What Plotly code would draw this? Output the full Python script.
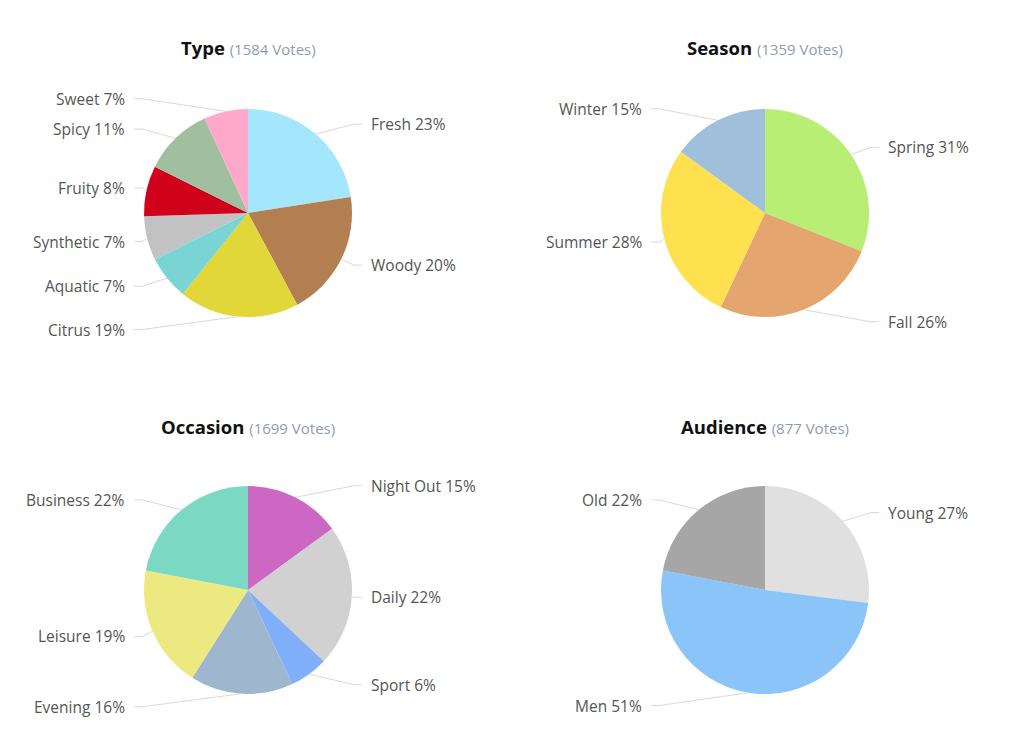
import math
import plotly.graph_objects as go

W, H = 1024, 753

# ---- data ----
type_labels = ["Fresh", "Woody", "Citrus", "Aquatic", "Synthetic", "Fruity", "Spicy", "Sweet"]
type_values = [23, 20, 19, 7, 7, 8, 11, 7]
type_colors = ["#a4e6fb", "#b47f50", "#e2d738", "#7bd4d4", "#c2c2c2", "#d0021b", "#a0bf9f", "#ffa8c9"]

season_labels = ["Spring", "Fall", "Summer", "Winter"]
season_values = [31, 26, 28, 15]
season_colors = ["#b8ee74", "#e5a56e", "#ffe14f", "#a0bfdb"]

occasion_labels = ["Night Out", "Daily", "Sport", "Evening", "Leisure", "Business"]
occasion_values = [15, 22, 6, 16, 19, 22]
occasion_colors = ["#cd67c4", "#d1d1d1", "#80aef9", "#9fb7ce", "#ece980", "#7bd8c3"]

audience_labels = ["Young", "Men", "Old"]
audience_values = [27, 51, 22]
audience_colors = ["#e0e0e0", "#8bc4f8", "#a6a6a6"]

titles = ["Type", "Season", "Occasion", "Audience"]
votes = [1584, 1359, 1699, 877]

# ---- layout (pixel geometry) ----
panels = [
    dict(labels=type_labels, values=type_values, colors=type_colors, cx=248, cy=213, ty=48),
    dict(labels=season_labels, values=season_values, colors=season_colors, cx=765, cy=213, ty=48),
    dict(labels=occasion_labels, values=occasion_values, colors=occasion_colors, cx=248, cy=590, ty=426),
    dict(labels=audience_labels, values=audience_values, colors=audience_colors, cx=765, cy=590, ty=426),
]
R = 104
LABEL_R = 117
LABEL_DX = 121


def px(x):
    return x / W


def py(y):
    return 1 - y / H


fig = go.Figure()
annotations = []
shapes = []

for i, p in enumerate(panels):
    cx, cy = p["cx"], p["cy"]
    fig.add_trace(go.Pie(
        labels=p["labels"], values=p["values"],
        marker=dict(colors=p["colors"], line=dict(width=0)),
        sort=False, direction="clockwise", rotation=0,
        textinfo="none", hoverinfo="label+percent", showlegend=False,
        domain=dict(x=[px(cx - R), px(cx + R)], y=[py(cy + R), py(cy - R)]),
    ))
    # title
    annotations.append(dict(
        x=px(cx), y=py(p["ty"]), xref="paper", yref="paper",
        xanchor="center", yanchor="middle", showarrow=False,
        text=f"<b>{titles[i]}</b> <span style='color:#8f9bb3;font-size:15px;'>({votes[i]} Votes)</span>",
        font=dict(family="Open Sans", size=18.5, color="#111111"),
    ))
    total = sum(p["values"])
    cum = 0
    for lab, v in zip(p["labels"], p["values"]):
        mid = (cum + v / 2) / total * 2 * math.pi
        cum += v
        s, c = math.sin(mid), math.cos(mid)
        ly = cy - LABEL_R * c
        ex, ey = cx + R * s, cy - R * c
        right = s >= 0
        sign = 1 if right else -1
        lx = cx + sign * LABEL_DX
        x0 = lx - sign * 7
        x1 = lx - sign * 15
        annotations.append(dict(
            x=px(lx), y=py(ly), xref="paper", yref="paper",
            xanchor="left" if right else "right", yanchor="middle", showarrow=False,
            text=f"{lab} {v}%",
            font=dict(family="Open Sans", size=15.5, color="#555555"),
        ))
        shapes.append(dict(
            type="path", xref="paper", yref="paper",
            path=f"M {px(x0)},{py(ly)} L {px(x1)},{py(ly)} L {px(ex)},{py(ey)}",
            line=dict(color="#d9d9d9", width=1),
        ))

fig.update_layout(
    width=W, height=H,
    margin=dict(l=0, r=0, t=0, b=0),
    paper_bgcolor="white", plot_bgcolor="white",
    annotations=annotations, shapes=shapes,
    font=dict(family="Open Sans"),
)

fig.write_html("out.html")
